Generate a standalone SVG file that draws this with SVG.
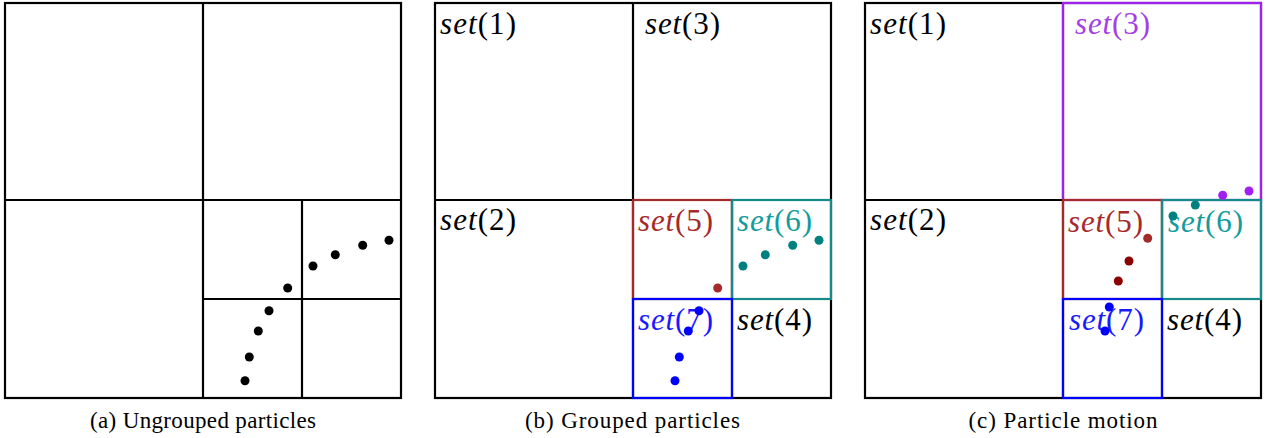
<svg xmlns="http://www.w3.org/2000/svg" width="1269" height="438" viewBox="0 0 1269 438" font-family="Liberation Serif, Times New Roman, serif">
<style>
.g{fill:none;stroke:#000;stroke-width:2.2}
.box{fill:none;stroke-width:2.2}
.lbl{font-size:31px}
.cap{font-size:23px;text-anchor:middle;fill:#000}
.it{font-style:italic}
.red{stroke:#a52a2a}.teal{stroke:#168a8a}.blue{stroke:#0000ff}.purple{stroke:#a020f0}
</style>
<rect width="1269" height="438" fill="#fff"/>

<!-- Panel (a) -->
<g id="panel-a">
  <rect class="g" x="5" y="3" width="396" height="395"/>
  <path class="g" d="M203 3V398M5 200H401M302 200V398M203 299H401"/>
  <g fill="#000">
    <circle cx="287.7" cy="288" r="4.5"/>
    <circle cx="313" cy="266" r="4.5"/>
    <circle cx="335.3" cy="254.7" r="4.5"/>
    <circle cx="362.7" cy="245.3" r="4.5"/>
    <circle cx="389" cy="240.3" r="4.5"/>
    <circle cx="269" cy="310.7" r="4.5"/>
    <circle cx="258.3" cy="331" r="4.5"/>
    <circle cx="249.3" cy="357" r="4.5"/>
    <circle cx="245" cy="380.7" r="4.5"/>
  </g>
  <text class="cap" x="203" y="428" textLength="226" lengthAdjust="spacing">(a) Ungrouped particles</text>
</g>

<!-- Panel (b) -->
<g id="panel-b">
  <rect class="g" x="435" y="3" width="396" height="395"/>
  <path class="g" d="M633 3V398M435 200H831M732 200V398M633 299H831"/>
  <rect id="b-set5" class="box red" x="633" y="200" width="99" height="99"/>
  <rect id="b-set6" class="box teal" x="732" y="200" width="99" height="99"/>
  <rect id="b-set7" class="box blue" x="633" y="299" width="99" height="99"/>
  <text class="lbl" x="440" y="34" fill="#000" textLength="76" lengthAdjust="spacing"><tspan class="it">set</tspan>(1)</text>
  <text class="lbl" x="645" y="34" fill="#000" textLength="75" lengthAdjust="spacing"><tspan class="it">set</tspan>(3)</text>
  <text class="lbl" x="440" y="230" fill="#000" textLength="76" lengthAdjust="spacing"><tspan class="it">set</tspan>(2)</text>
  <text class="lbl" x="638" y="231" fill="#a52a2a" textLength="75" lengthAdjust="spacing"><tspan class="it">set</tspan>(5)</text>
  <text class="lbl" x="737" y="231" fill="#139c9c" textLength="75" lengthAdjust="spacing"><tspan class="it">set</tspan>(6)</text>
  <text class="lbl" x="638" y="330" fill="#1a1aff" textLength="75" lengthAdjust="spacing"><tspan class="it">set</tspan>(7)</text>
  <text class="lbl" x="737" y="330" fill="#000" textLength="75" lengthAdjust="spacing"><tspan class="it">set</tspan>(4)</text>
  <circle cx="717.7" cy="288" r="4.5" fill="#a52a2a"/>
  <g fill="#008080">
    <circle cx="743" cy="266" r="4.5"/>
    <circle cx="765.3" cy="254.7" r="4.5"/>
    <circle cx="792.7" cy="245.3" r="4.5"/>
    <circle cx="819" cy="240.3" r="4.5"/>
  </g>
  <g fill="#0000ff">
    <circle cx="699" cy="310.7" r="4.5"/>
    <circle cx="688.3" cy="331" r="4.5"/>
    <circle cx="679.3" cy="357" r="4.5"/>
    <circle cx="675" cy="380.7" r="4.5"/>
  </g>
  <text class="cap" x="632.5" y="428" textLength="215" lengthAdjust="spacing">(b) Grouped particles</text>
</g>

<!-- Panel (c) -->
<g id="panel-c">
  <rect class="g" x="865" y="3" width="396" height="395"/>
  <path class="g" d="M1063 3V398M865 200H1261M1162 200V398M1063 299H1261"/>
  <rect id="c-set3" class="box purple" x="1063" y="3" width="198" height="197"/>
  <rect id="c-set5" class="box red" x="1063" y="200" width="99" height="99"/>
  <rect id="c-set6" class="box teal" x="1162" y="200" width="99" height="99"/>
  <rect id="c-set7" class="box blue" x="1063" y="299" width="99" height="99"/>
  <text class="lbl" x="870" y="34" fill="#000" textLength="76" lengthAdjust="spacing"><tspan class="it">set</tspan>(1)</text>
  <text class="lbl" x="1075" y="34" fill="#a43ee6" textLength="75" lengthAdjust="spacing"><tspan class="it">set</tspan>(3)</text>
  <text class="lbl" x="870" y="230" fill="#000" textLength="76" lengthAdjust="spacing"><tspan class="it">set</tspan>(2)</text>
  <text class="lbl" x="1068" y="232" fill="#a52a2a" textLength="75" lengthAdjust="spacing"><tspan class="it">set</tspan>(5)</text>
  <text class="lbl" x="1168" y="232" fill="#139c9c" textLength="75" lengthAdjust="spacing"><tspan class="it">set</tspan>(6)</text>
  <text class="lbl" x="1069" y="330" fill="#1a1aff" textLength="75" lengthAdjust="spacing"><tspan class="it">set</tspan>(7)</text>
  <text class="lbl" x="1167" y="330" fill="#000" textLength="75" lengthAdjust="spacing"><tspan class="it">set</tspan>(4)</text>
  <g fill="#a020f0">
    <circle cx="1222.7" cy="195.3" r="4.5"/>
    <circle cx="1249" cy="191" r="4.5"/>
  </g>
  <g fill="#008080">
    <circle cx="1195.3" cy="205" r="4.5"/>
    <circle cx="1173" cy="216" r="4.5"/>
  </g>
  <circle cx="1147.7" cy="238.3" r="4.5" fill="#a52a2a"/>
  <g fill="#8b0000">
    <circle cx="1129" cy="261" r="4.5"/>
    <circle cx="1118.3" cy="281" r="4.5"/>
  </g>
  <g fill="#0000ff">
    <circle cx="1109.3" cy="307" r="4.5"/>
    <circle cx="1105" cy="331" r="4.5"/>
  </g>
  <text class="cap" x="1063" y="428" textLength="189" lengthAdjust="spacing">(c) Particle motion</text>
</g>
</svg>
